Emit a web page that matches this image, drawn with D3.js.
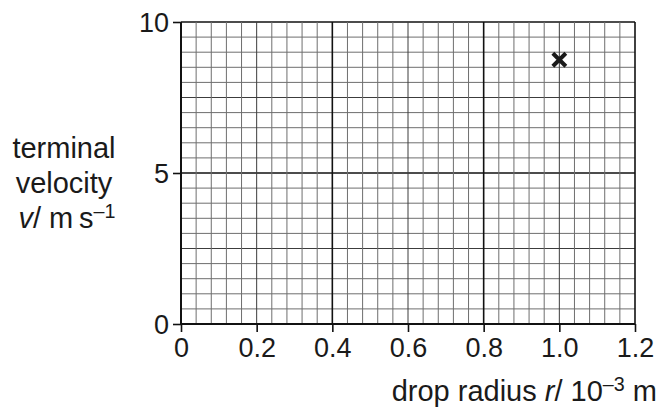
<!DOCTYPE html>
<html>
<head>
<meta charset="utf-8">
<script src="https://cdn.jsdelivr.net/npm/d3@7"></script>
<style>
  html, body { margin: 0; padding: 0; background: #fff; }
  svg text { font-family: "Liberation Sans", Arial, Helvetica, sans-serif; fill: #1a1a1a; }
</style>
</head>
<body>
<svg id="chart" width="659" height="412"></svg>
<script>
(function () {
  "use strict";

  // data
  const xTicks = [0, 0.2, 0.4, 0.6, 0.8, 1.0, 1.2];
  const xTickLabels = ["0", "0.2", "0.4", "0.6", "0.8", "1.0", "1.2"];
  const yTicks = [0, 5, 10];
  const yTickLabels = ["0", "5", "10"];
  const radius = [1.0];
  const velocity = [8.75];

  const xMinorStep = 0.04;
  const yMinorStep = 0.5;

  const box = { left: 181, right: 635, top: 22, bottom: 324 };
  const tickFont = 27;
  const titleFont = 29;

  const svg = d3.select("#chart");
  const x = d3.scaleLinear().domain([0, 1.2]).range([box.left, box.right]);
  const y = d3.scaleLinear().domain([0, 10]).range([box.bottom, box.top]);

  // grid lines: minor, every 5th a bit darker, every 10th heavy
  function level(i) {
    if (i % 10 === 0) return 2;
    if (i % 5 === 0) return 1;
    return 0;
  }
  const gridStyle = [
    { stroke: "#6e6e6e", width: 1 },
    { stroke: "#3c3c3c", width: 1 },
    { stroke: "#111", width: 1.6 },
  ];

  const nx = Math.round(1.2 / xMinorStep);
  const ny = Math.round(10 / yMinorStep);
  const vLines = d3.range(nx + 1).map((i) => ({ v: i * xMinorStep, lv: level(i) }));
  const hLines = d3.range(ny + 1).map((i) => ({ v: i * yMinorStep, lv: level(i) }));

  const grid = svg.append("g");
  const byLevel = (a, b) => a.lv - b.lv;
  grid.selectAll("line.h")
    .data(hLines.slice().sort(byLevel))
    .enter().append("line")
    .attr("class", "h")
    .attr("x1", box.left).attr("x2", box.right)
    .attr("y1", (d) => y(d.v)).attr("y2", (d) => y(d.v))
    .attr("stroke", (d) => gridStyle[d.lv].stroke)
    .attr("stroke-width", (d) => gridStyle[d.lv].width);
  grid.selectAll("line.v")
    .data(vLines.slice().sort(byLevel))
    .enter().append("line")
    .attr("class", "v")
    .attr("y1", box.top).attr("y2", box.bottom)
    .attr("x1", (d) => x(d.v)).attr("x2", (d) => x(d.v))
    .attr("stroke", (d) => gridStyle[d.lv].stroke)
    .attr("stroke-width", (d) => gridStyle[d.lv].width);

  // axes
  const xAxis = d3.axisBottom(x)
    .tickValues(xTicks)
    .tickFormat((d, i) => xTickLabels[i])
    .tickSize(8)
    .tickPadding(5);
  const yAxis = d3.axisLeft(y)
    .tickValues(yTicks)
    .tickFormat((d, i) => yTickLabels[i])
    .tickSize(8)
    .tickPadding(4);

  const gx = svg.append("g")
    .attr("transform", `translate(0,${box.bottom})`)
    .call(xAxis);
  const gy = svg.append("g")
    .attr("transform", `translate(${box.left},0)`)
    .call(yAxis);

  [gx, gy].forEach((g) => {
    g.select(".domain").attr("stroke", "#111").attr("stroke-width", 2);
    g.selectAll(".tick line").attr("stroke", "#111").attr("stroke-width", 1.6);
    g.selectAll(".tick text")
      .attr("font-size", tickFont)
      .attr("font-family", "Liberation Sans, Arial, sans-serif")
      .attr("fill", "#1a1a1a");
  });
  gx.select(".domain").attr("d", `M${box.left},0H${box.right}`);
  gy.select(".domain").attr("d", `M0,${box.bottom}V${box.top}`);
  gy.selectAll(".tick text").attr("dy", "0.35em");
  gx.selectAll(".tick text").attr("dy", "0.75em");

  // marker: bold cross
  const pts = radius.map((r, i) => ({ r: r, v: velocity[i] }));
  const s = 6.5;
  const marks = svg.append("g").selectAll("g")
    .data(pts)
    .enter().append("g")
    .attr("transform", (d) => `translate(${x(d.r)},${y(d.v)})`);
  marks.append("path")
    .attr("d", `M${-s},${-s}L${s},${s}M${-s},${s}L${s},${-s}`)
    .attr("stroke", "#1a1a1a")
    .attr("stroke-width", 4)
    .attr("fill", "none");

  // y axis title (three lines)
  const yt = svg.append("text")
    .attr("text-anchor", "middle")
    .attr("font-size", titleFont);
  yt.append("tspan").attr("x", 64).attr("y", 158).text("terminal");
  yt.append("tspan").attr("x", 64).attr("y", 193).text("velocity");
  const yt3 = svg.append("text")
    .attr("text-anchor", "middle")
    .attr("x", 67).attr("y", 228)
    .attr("font-size", titleFont);
  yt3.append("tspan").attr("font-style", "italic").text("v");
  yt3.append("tspan").text("/ m\u2009s");
  yt3.append("tspan").attr("font-size", titleFont * 0.68).attr("dy", -10).text("\u20131");

  // x axis title
  const xt = svg.append("text")
    .attr("text-anchor", "end")
    .attr("x", 657).attr("y", 401)
    .attr("font-size", titleFont);
  xt.append("tspan").text("drop radius ");
  xt.append("tspan").attr("font-style", "italic").text("r");
  xt.append("tspan").text("/ 10");
  xt.append("tspan").attr("font-size", titleFont * 0.68).attr("dy", -10).text("\u20133");
  xt.append("tspan").attr("dy", 10).text(" m");
})();
</script>
</body>
</html>
